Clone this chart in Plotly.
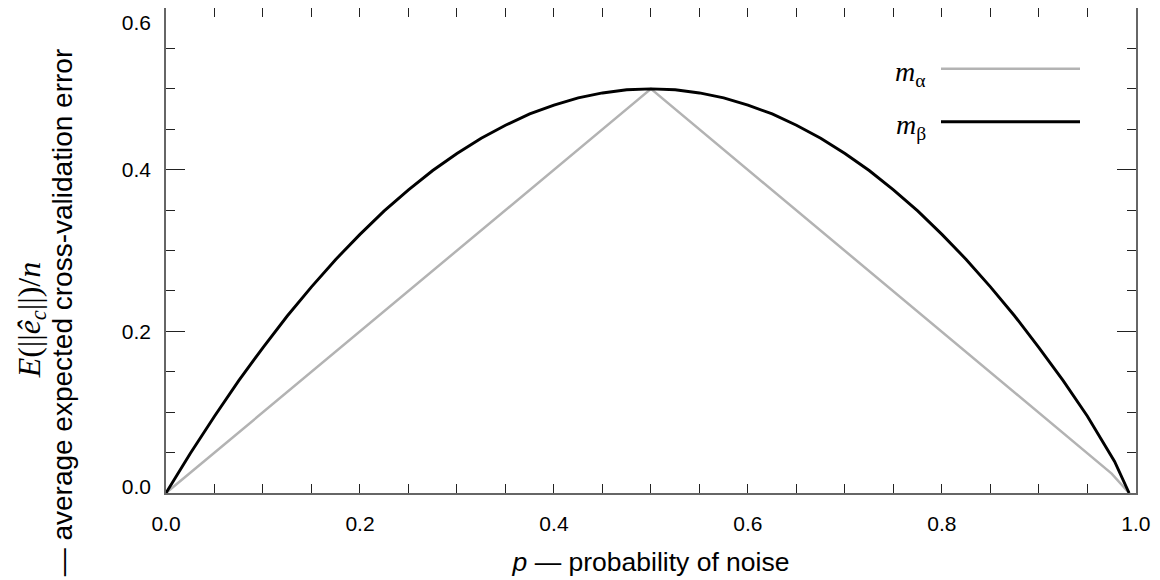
import plotly.graph_objects as go

# Data
p_beta = [0.0, 0.025, 0.05, 0.075, 0.1, 0.125, 0.15, 0.175, 0.2, 0.225, 0.25, 0.275,
          0.3, 0.325, 0.35, 0.375, 0.4, 0.425, 0.45, 0.475, 0.5, 0.525, 0.55, 0.575,
          0.6, 0.625, 0.65, 0.675, 0.7, 0.725, 0.75, 0.775, 0.8, 0.825, 0.85, 0.875,
          0.9, 0.925, 0.95, 0.978, 0.993]
err_beta = [0.0, 0.049, 0.095, 0.139, 0.18, 0.219, 0.255, 0.289, 0.32, 0.349, 0.375, 0.399,
            0.42, 0.439, 0.455, 0.469, 0.48, 0.489, 0.495, 0.499, 0.5, 0.499, 0.495, 0.489,
            0.48, 0.469, 0.455, 0.439, 0.42, 0.399, 0.375, 0.349, 0.32, 0.289, 0.255, 0.219,
            0.18, 0.139, 0.095, 0.039, 0.0]

p_alpha = [0.0, 0.5, 0.975, 0.993]
err_alpha = [0.0, 0.5, 0.024, 0.0]

x_ticks = [0.0, 0.2, 0.4, 0.6, 0.8, 1.0]
x_tick_labels = ["0.0", "0.2", "0.4", "0.6", "0.8", "1.0"]
y_ticks = [0.0, 0.2, 0.4, 0.6]
y_tick_labels = ["0.0", "0.2", "0.4", "0.6"]

series_names = ["m<sub>α</sub>", "m<sub>β</sub>"]

# layout: the end labels of the y axis sit nudged inward (as in the reference)
Y_LABEL_POS = [0.0074, 0.2, 0.4, 0.5815]

GRAY = "#b3b3b3"
SANS = "Liberation Sans, Arial, sans-serif"
SERIF = "Liberation Serif, Times New Roman, serif"

fig = go.Figure()
fig.add_trace(go.Scatter(x=p_alpha, y=err_alpha, mode="lines",
                         line=dict(color=GRAY, width=2.5), name="m_alpha",
                         showlegend=False))
fig.add_trace(go.Scatter(x=p_beta, y=err_beta, mode="lines",
                         line=dict(color="#000000", width=2.9), name="m_beta",
                         showlegend=False))
# empty helper trace so the label axis (y2) is drawn
fig.add_trace(go.Scatter(x=[None], y=[None], yaxis="y2", mode="lines",
                         showlegend=False, hoverinfo="skip"))

# The page body adds an 8px offset, so the figure is 8px smaller on each axis.
W, H = 1152, 572
L, T = 158, 0
R = W - L - 970
B = H - T - 485

REF_L, REF_R, REF_T, REF_B = 166, 1136, 7, 493


def px_x(px):
    return (px - REF_L) / (REF_R - REF_L)


def px_y(py):
    return (REF_B - py) / (REF_B - REF_T)


axis_common = dict(
    showgrid=False, zeroline=False, showline=True, linecolor="#666666", linewidth=2,
    mirror="allticks", ticks="inside", tickcolor="#222222", tickwidth=1,
    tickfont=dict(family=SANS, size=21, color="#000000"),
)

Y_RANGE = [0, 0.6001]

fig.update_xaxes(range=[0, 1.0001], tickvals=x_ticks, ticktext=x_tick_labels,
                 ticklen=9, ticklabelstandoff=11,
                 minor=dict(dtick=0.05, ticklen=5, tickcolor="#222222", tickwidth=1, ticks="inside"),
                 title=dict(text="<i>p</i> — probability of noise",
                            font=dict(family=SANS, size=26.5, color="#000000"), standoff=18),
                 **axis_common)
fig.update_layout(yaxis=dict(range=Y_RANGE, tickvals=y_ticks, showticklabels=False,
                             ticklen=19,
                             minor=dict(dtick=0.05, ticklen=9, tickcolor="#222222",
                                        tickwidth=1, ticks="inside"),
                             **axis_common))

annotations = [
    dict(text="<i>E</i>(||<i>ê</i><sub><i>c</i></sub>||)/<i>n</i>", textangle=-90,
         x=px_x(31), y=px_y(320), xref="paper", yref="paper", showarrow=False,
         xanchor="center", yanchor="middle",
         font=dict(family=SERIF, size=32, color="#000000")),
    dict(text="— average expected cross-validation error", textangle=-90,
         x=px_x(62), y=px_y(312), xref="paper", yref="paper", showarrow=False,
         xanchor="center", yanchor="middle",
         font=dict(family=SANS, size=28, color="#000000")),
]
legend_rows = [(series_names[0], 68, GRAY, 2.5), (series_names[1], 121, "#000000", 3)]
shapes = []
for label, ypx, col, w in legend_rows:
    annotations.append(dict(text="<i>m</i>" + label[1:], x=px_x(928), y=px_y(ypx + 5),
                            xref="paper", yref="paper", showarrow=False,
                            xanchor="right", yanchor="middle",
                            font=dict(family=SERIF, size=28, color="#000000")))
    shapes.append(dict(type="line", xref="paper", yref="paper",
                       x0=px_x(941), x1=px_x(1080), y0=px_y(ypx), y1=px_y(ypx),
                       line=dict(color=col, width=w)))

fig.update_layout(
    width=W, height=H, margin=dict(l=L, r=R, t=T, b=B, autoexpand=False),
    plot_bgcolor="white", paper_bgcolor="white",
    yaxis2=dict(overlaying="y", side="left", range=Y_RANGE, showline=False,
                showgrid=False, zeroline=False, ticks="",
                tickvals=Y_LABEL_POS, ticktext=y_tick_labels, ticklabelstandoff=14,
                ticklabeloverflow="allow",
                tickfont=dict(family=SANS, size=21, color="#000000")),
    annotations=annotations, shapes=shapes, showlegend=False)

fig.write_html("out.html")
